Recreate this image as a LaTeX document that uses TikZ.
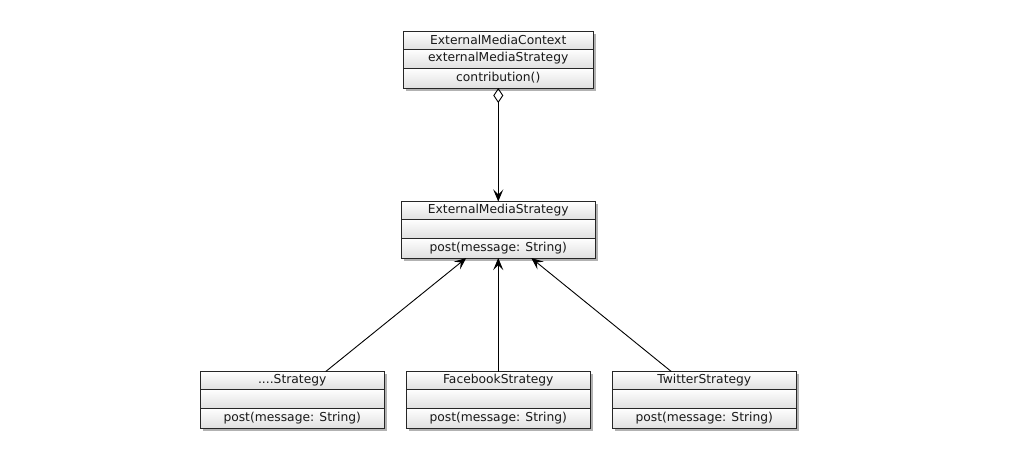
\documentclass[tikz,border=0pt]{standalone}
\usepackage{fontspec}
\setmainfont{DejaVu Sans}
\usetikzlibrary{arrows.meta,shadows}
\tikzset{
  shadowbox/.style={fill=white, inner sep=0pt, outer sep=0pt,
    drop shadow={shadow xshift=2.5pt, shadow yshift=-2.5pt, opacity=0.3, fill=black}},
  rowbox/.style={draw=black!85, line width=0.9pt, top color=white, bottom color=black!12,
    inner sep=0pt, outer sep=0pt, text=black!90, font=\fontsize{12.3}{14}\selectfont},
  aggr/.style={line width=0.9pt, {Diamond[open, length=15pt, width=10pt, line width=0.9pt]}-{Stealth[length=12pt, width=10pt, inset=5pt]}},
  gen/.style={line width=0.9pt, -{Stealth[length=12pt, width=10pt, inset=5pt]}}
}
\newcommand{\umlclass}[7]{%
  \node[shadowbox, anchor=north west, minimum width=#4, minimum height=56.5] (#1) at (#2,#3) {};
  \node[rowbox, anchor=north west, minimum width=#4, minimum height=17.5] (#1-t) at (#2,#3) {#5};
  \node[rowbox, anchor=north west, minimum width=#4, minimum height=19] (#1-a) at (#2,#3+17.5) {#6};
  \node[rowbox, anchor=north west, minimum width=#4, minimum height=20] (#1-o) at (#2,#3+36.5) {#7};
}
\begin{document}
\begin{tikzpicture}[x=1pt, y=-1pt]
\fill[white] (0,0) rectangle (1022,451);
\path[use as bounding box] (0,0) rectangle (1022,451);
\umlclass{ctx}{403}{31.5}{190.5}{ExternalMediaContext}{externalMediaStrategy}{contribution()}
\umlclass{strat}{401.5}{201.5}{193.5}{ExternalMediaStrategy}{}{post(message: String)}
\umlclass{dots}{200}{371.5}{184.5}{....Strategy}{}{post(message: String)}
\umlclass{fb}{406}{371.5}{184.5}{FacebookStrategy}{}{post(message: String)}
\umlclass{tw}{612}{371.5}{184.5}{TwitterStrategy}{}{post(message: String)}
\draw[aggr] (ctx-o.south) -- (strat-t.north);
\draw[gen] ([xshift=33.5pt]dots-t.north) -- ([xshift=-32pt]strat-o.south);
\draw[gen] (fb-t.north) -- (strat-o.south);
\draw[gen] ([xshift=-33pt]tw-t.north) -- ([xshift=33pt]strat-o.south);
\end{tikzpicture}
\end{document}
